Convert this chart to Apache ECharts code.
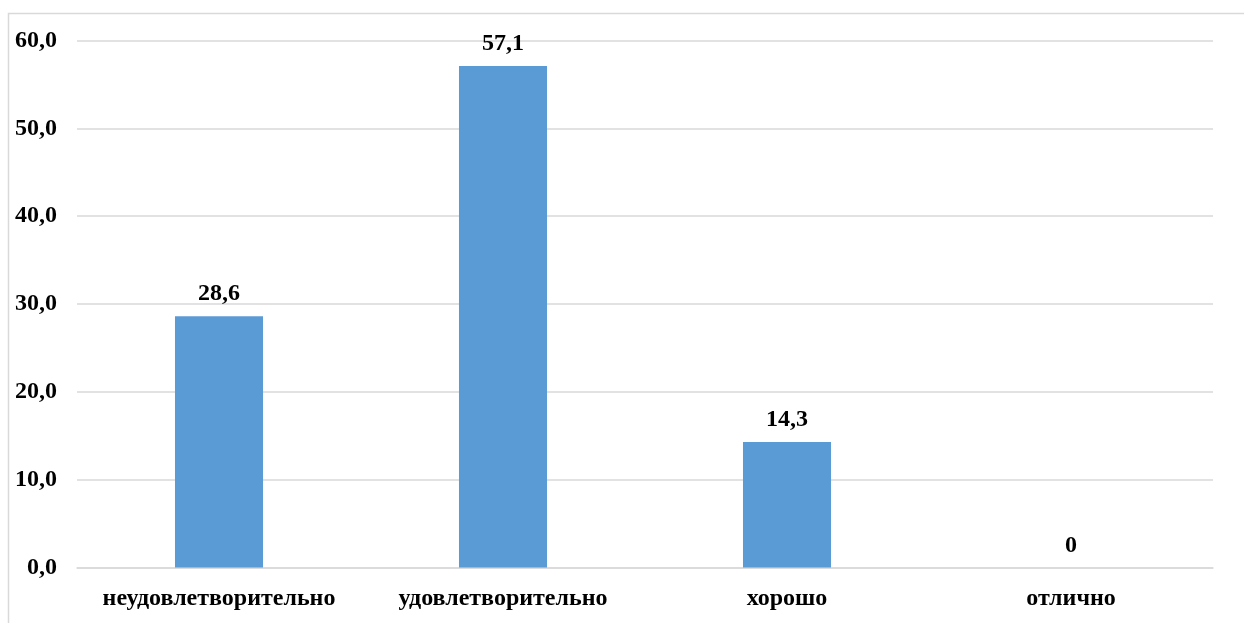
<!DOCTYPE html>
<html><head><meta charset="utf-8">
<script src="https://cdn.jsdelivr.net/npm/echarts@6/dist/echarts.min.js"></script>
<style>html,body{margin:0;padding:0;background:#fff}#c{width:1244px;height:623px}</style>
</head><body><div id="c"></div>
<script>
const categories = ['неудовлетворительно', 'удовлетворительно', 'хорошо', 'отлично'];
const values = [28.6, 57.1, 14.3, 0];
const yTicks = [0, 10, 20, 30, 40, 50, 60];

const font = '"Liberation Serif", "Times New Roman", serif';
const chart = echarts.init(document.getElementById('c'));
chart.setOption({
  animation: false,
  graphic: [{type:'rect', shape:{x:8.5, y:13.5, width:1260, height:640}, style:{fill:'none', stroke:'#d9d9d9', lineWidth:1.5}, silent:true, z:-1}],
  grid: {left:77, right:31, top:40.5, bottom:55.5, containLabel:false},
  xAxis: {
    type:'category', data: categories,
    axisLine:{show:true, lineStyle:{color:'#d9d9d9', width:1.5}}, axisTick:{show:false},
    axisLabel:{interval:0, hideOverlap:false, color:'#000', fontFamily:font, fontWeight:'bold', fontSize:24, margin:19}
  },
  yAxis: {
    type:'value', min: yTicks[0], max: yTicks[yTicks.length-1], interval:10,
    axisLine:{show:false}, axisTick:{show:false},
    splitLine:{lineStyle:{color:'#d9d9d9', width:1.5}},
    axisLabel:{color:'#000', fontFamily:font, fontWeight:'bold', fontSize:24, margin:20,
      formatter: v => v.toFixed(1).replace('.', ',')}
  },
  series: [{
    type:'bar', data: values, barWidth:'31%',
    itemStyle:{color:'#5b9bd5'},
    label:{show:true, position:'top', distance:10, color:'#000', fontFamily:font, fontWeight:'bold', fontSize:24,
      formatter: p => p.value === 0 ? '0' : String(p.value).replace('.', ',')}
  }]
});
</script></body></html>
